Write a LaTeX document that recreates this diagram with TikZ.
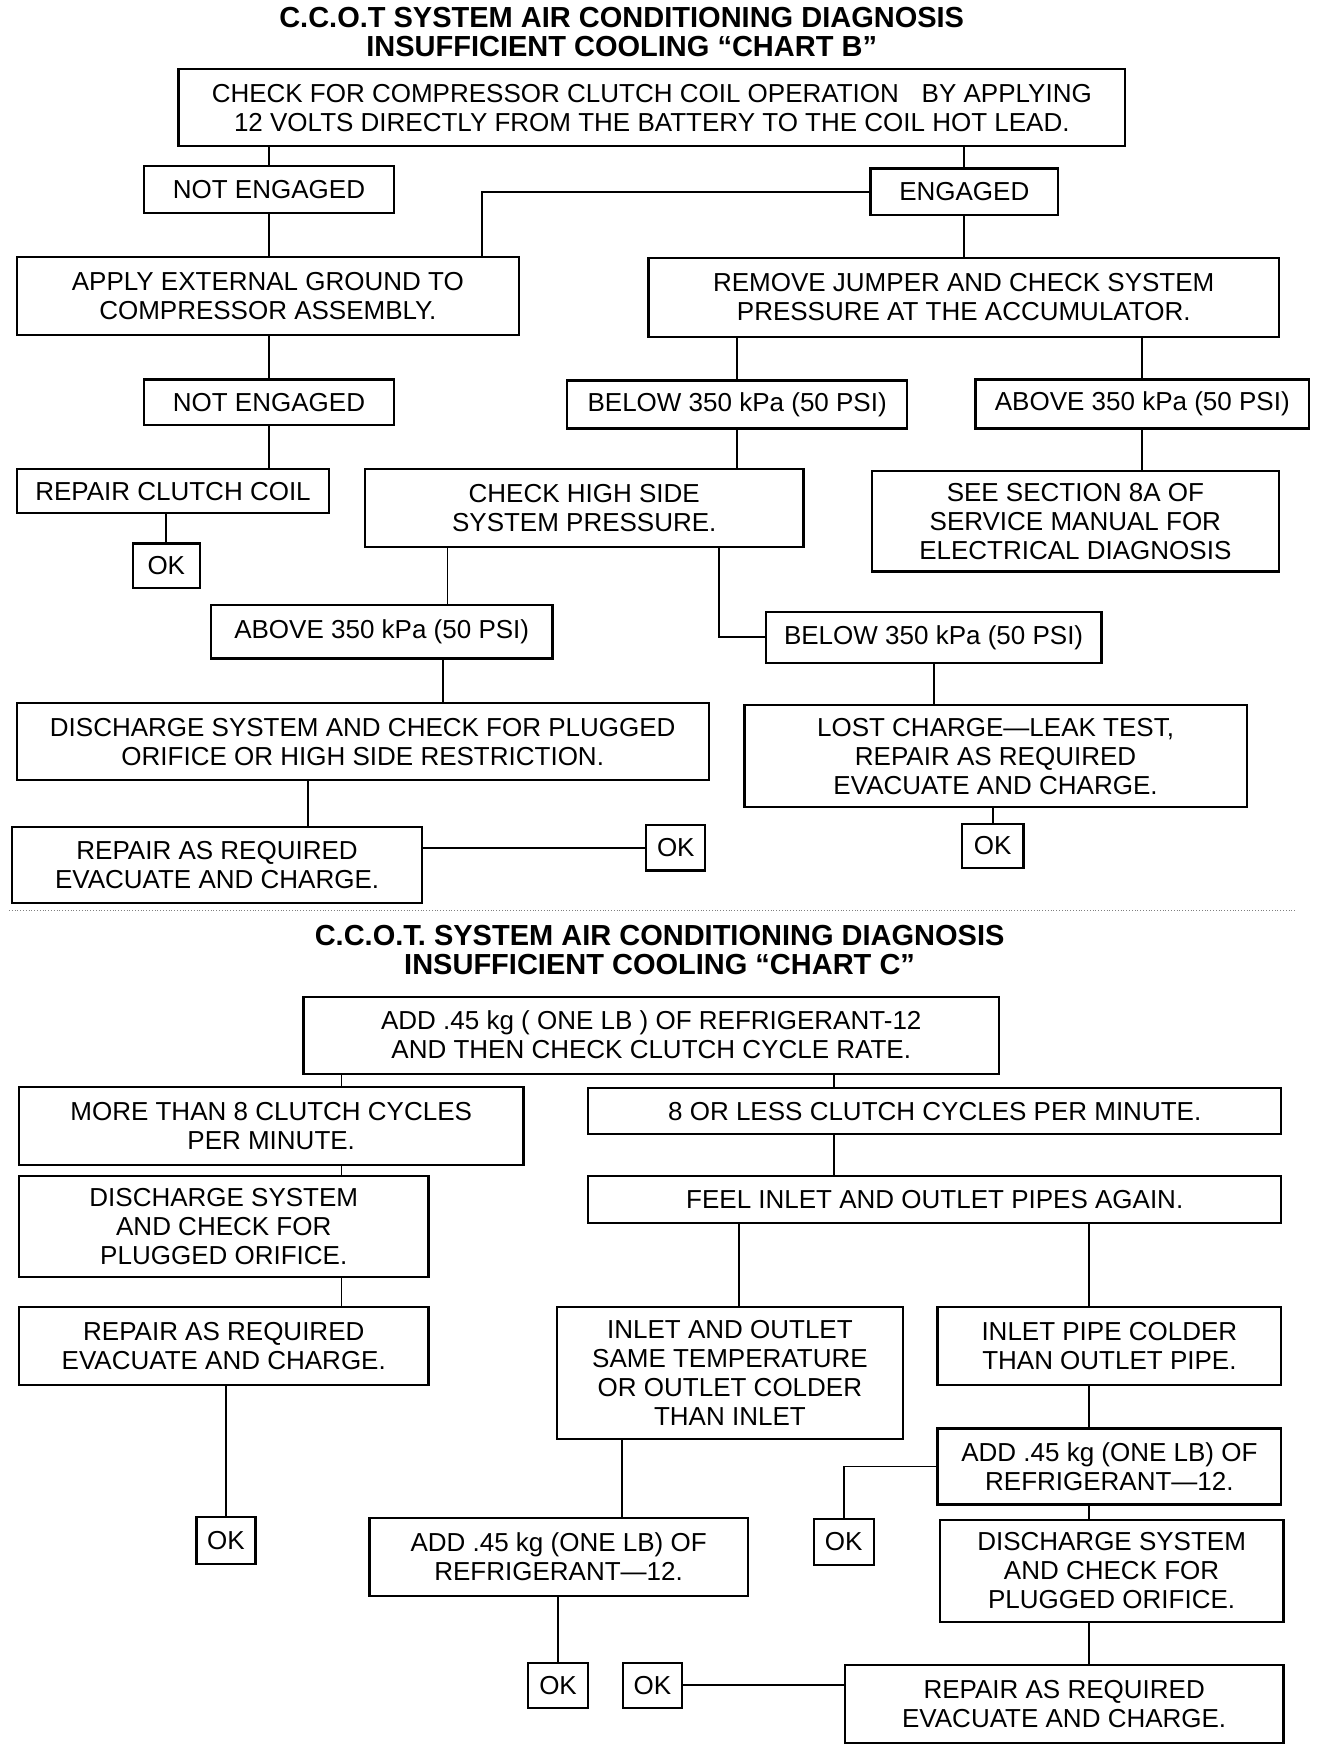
\documentclass[tikz,border=0pt]{standalone}
\usepackage{fontspec}
\setmainfont{Liberation Sans}
\usepackage{tikz}
\usetikzlibrary{calc}

\begin{document}
\begin{tikzpicture}[
  x=0.558pt,y=-0.558pt,
  font=\fontsize{13}{14.5}\selectfont,
  sz/.style 2 args={minimum width=#1*0.558pt,minimum height=#2*0.558pt},
  box/.style={draw=black,line width=1.1pt,inner sep=3pt,align=center},
  okbox/.style={box,sz={54}{40}},
  heading/.style={font=\bfseries\fontsize{14.5}{14.5}\selectfont,align=center},
  link/.style={line width=0.9pt,draw=black},
]
\useasboundingbox (0,0) rectangle (1190,1568);

% chart B
\node[heading] (titleB) at (557,29)
  {C.C.O.T SYSTEM AIR CONDITIONING DIAGNOSIS\\INSUFFICIENT COOLING “CHART B”};
\node[box,sz={848}{69}] (check) at (584,96.5)
  {CHECK FOR COMPRESSOR CLUTCH COIL OPERATION\hspace{0.6em} BY APPLYING\\
   12 VOLTS DIRECTLY FROM THE BATTERY TO THE COIL HOT LEAD.};
\node[box,sz={224}{42}] (ne1) at (241,170) {NOT ENGAGED};
\node[box,sz={168}{42}] (eng) at (864,172) {ENGAGED};
\node[box,sz={450}{70}] (apply) at (240,265)
  {APPLY EXTERNAL GROUND TO\\COMPRESSOR ASSEMBLY.};
\node[box,sz={565}{71}] (remove) at (863.5,266.5)
  {REMOVE JUMPER AND CHECK SYSTEM\\PRESSURE AT THE ACCUMULATOR.};
\node[box,sz={224}{41}] (ne2) at (241,360.5) {NOT ENGAGED};
\node[box,sz={305}{43}] (below1) at (660.5,362.5) {BELOW 350 kPa (50 PSI)};
\node[box,sz={299}{44}] (above1) at (1023.5,362) {ABOVE 350 kPa (50 PSI)};
\node[box,sz={280}{40}] (rcc) at (155,440) {REPAIR CLUTCH COIL};
\node[okbox,sz={60}{40}] (ok1) at (149,507) {OK};
\node[box,sz={393}{70}] (checkhs) at (523.5,455)
  {CHECK HIGH SIDE\\SYSTEM PRESSURE.};
\node[box,sz={365}{90}] (seesec) at (963.5,467)
  {SEE SECTION 8A OF\\SERVICE MANUAL FOR\\ELECTRICAL DIAGNOSIS};
\node[box,sz={306}{48}] (above2) at (342,566) {ABOVE 350 kPa (50 PSI)};
\node[box,sz={301}{46}] (below2) at (836.5,571) {BELOW 350 kPa (50 PSI)};
\node[box,sz={620}{69}] (disch) at (325,664.5)
  {DISCHARGE SYSTEM AND CHECK FOR PLUGGED\\ORIFICE OR HIGH SIDE RESTRICTION.};
\node[box,sz={450}{91}] (lost) at (892,677.5)
  {LOST CHARGE—LEAK TEST,\\REPAIR AS REQUIRED\\EVACUATE AND CHARGE.};
\node[box,sz={367}{68}] (repB) at (194.5,775)
  {REPAIR AS REQUIRED\\EVACUATE AND CHARGE.};
\node[okbox,sz={53}{41}] (ok2) at (605.5,759.5) {OK};
\node[okbox,sz={55}{40}] (ok3) at (889.5,758) {OK};

\coordinate (gnd) at ($(apply.north east)+(-34,0)$);
\coordinate (hsup) at ($(above2.north)+(59,0)$);
\coordinate (hslo) at ($(checkhs.south)+(120.5,0)$);
\coordinate (dsc) at ($(above2.south)+(55,0)$);
\coordinate (rp) at ($(repB.north)+(81.5,0)$);

\draw[link] (ne1.north) -- (ne1.north |- check.south);
\draw[link] (eng.north) -- (eng.north |- check.south);
\draw[link] (eng.west) -| (gnd);
\draw[link] (ne1.south) -- (ne1.south |- apply.north);
\draw[link] (eng.south) -- (eng.south |- remove.north);
\draw[link] (ne2.north) -- (ne2.north |- apply.south);
\draw[link] (below1.north) -- (below1.north |- remove.south);
\draw[link] (above1.north) -- (above1.north |- remove.south);
\draw[link] (ne2.south) -- (ne2.south |- rcc.north);
\draw[link] (ok1.north) -- (ok1.north |- rcc.south);
\draw[link] (below1.south) -- (below1.south |- checkhs.north);
\draw[link] (above1.south) -- (above1.south |- seesec.north);
\draw[link] (hsup |- checkhs.south) -- (hsup);
\draw[link] (hslo) |- (below2.west);
\draw[link] (dsc) -- (dsc |- disch.north);
\draw[link] (below2.south) -- (below2.south |- lost.north);
\draw[link] (rp |- disch.south) -- (rp);
\draw[link] (ok2.west) -- (ok2.west -| repB.east);
\draw[link] (ok3.north) -- (ok3.north |- lost.south);

% torn edge between the charts
\draw[densely dotted,line width=0.4pt,gray] (8,816) -- (1160,816);

% chart C
\node[heading] (titleC) at (591,851)
  {C.C.O.T. SYSTEM AIR CONDITIONING DIAGNOSIS\\INSUFFICIENT COOLING “CHART C”};
\node[box,sz={623}{69}] (addC) at (583.5,927.5)
  {ADD .45 kg ( ONE LB ) OF REFRIGERANT-12\\AND THEN CHECK CLUTCH CYCLE RATE.};
\node[box,sz={452}{70}] (more) at (243,1009)
  {MORE THAN 8 CLUTCH CYCLES\\PER MINUTE.};
\node[box,sz={621}{41}] (eight) at (837.5,995.5)
  {8 OR LESS CLUTCH CYCLES PER MINUTE.};
\node[box,sz={367}{90}] (dischC) at (200.5,1099)
  {DISCHARGE SYSTEM\\AND CHECK FOR\\PLUGGED ORIFICE.};
\node[box,sz={621}{42}] (feel) at (837.5,1075)
  {FEEL INLET AND OUTLET PIPES AGAIN.};
\node[box,sz={367}{70}] (repC) at (200.5,1206)
  {REPAIR AS REQUIRED\\EVACUATE AND CHARGE.};
\node[box,sz={310}{118}] (io) at (654,1230)
  {INLET AND OUTLET\\SAME TEMPERATURE\\OR OUTLET COLDER\\THAN INLET};
\node[box,sz={308}{70}] (ipc) at (994,1206)
  {INLET PIPE COLDER\\THAN OUTLET PIPE.};
\node[okbox,sz={53}{42}] (okC1) at (202.5,1380) {OK};
\node[box,sz={339}{70}] (addL) at (500.5,1395)
  {ADD .45 kg (ONE LB) OF\\REFRIGERANT—12.};
\node[box,sz={308}{68}] (addR) at (994,1314)
  {ADD .45 kg (ONE LB) OF\\REFRIGERANT—12.};
\node[okbox,sz={54}{41}] (okC2) at (756,1381.5) {OK};
\node[box,sz={308}{91}] (dischR) at (996,1407.5)
  {DISCHARGE SYSTEM\\AND CHECK FOR\\PLUGGED ORIFICE.};
\node[okbox] (okC3) at (500,1510) {OK};
\node[okbox,sz={53}{40}] (okC4) at (584.5,1510) {OK};
\node[box,sz={393}{70}] (repR) at (953.5,1527)
  {REPAIR AS REQUIRED\\EVACUATE AND CHARGE.};

\coordinate (cm) at ($(more.north)+(63,0)$);
\coordinate (cl) at ($(eight.north)+(-90.5,0)$);
\coordinate (fi) at ($(io.north)+(8,0)$);
\coordinate (rt) at ($(ipc.north)+(-18,0)$);
\coordinate (il) at ($(addL.north)+(57,0)$);

\draw[link] (cm |- addC.south) -- (cm);
\draw[link] (cl |- addC.south) -- (cl);
\draw[link] (cm |- more.south) -- (cm |- dischC.north);
\draw[link] (cm |- dischC.south) -- (cm |- repC.north);
\draw[link] (cl |- eight.south) -- (cl |- feel.north);
\draw[link] (fi |- feel.south) -- (fi);
\draw[link] (rt |- feel.south) -- (rt);
\draw[link] (okC1.north) -- (okC1.north |- repC.south);
\draw[link] (il |- io.south) -- (il);
\draw[link] (rt |- ipc.south) -- (rt |- addR.north);
\draw[link] (addR.west) -| (okC2.north);
\draw[link] (rt |- addR.south) -- (rt |- dischR.north);
\draw[link] (okC3.north) -- (okC3.north |- addL.south);
\draw[link] (rt |- dischR.south) -- (rt |- repR.north);
\draw[link] (repR.west |- okC4.east) -- (okC4.east);

\end{tikzpicture}
\end{document}
